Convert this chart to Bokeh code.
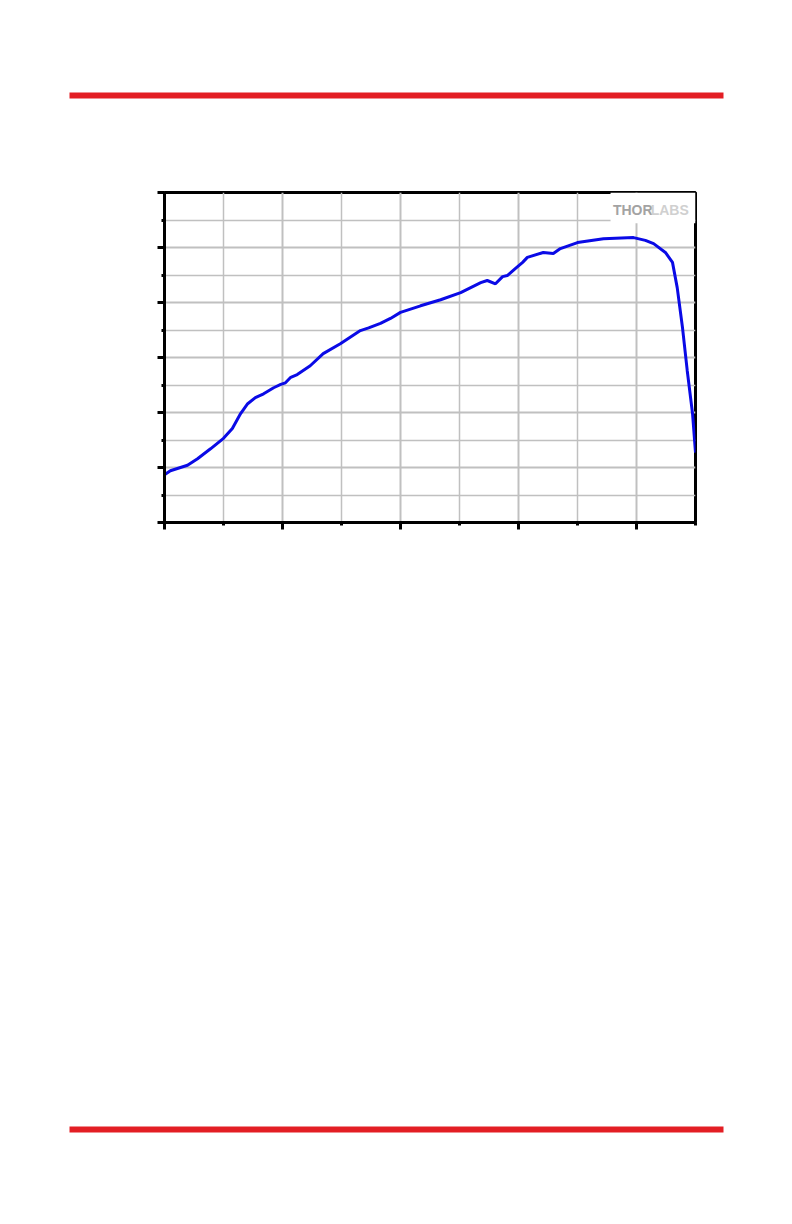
from bokeh.plotting import figure
from bokeh.models import Range1d, FixedTicker
from bokeh.embed import file_html
from bokeh.resources import INLINE
from bokeh.core.properties import value

# ---- data (axis units are unlabeled in the reference) ----
x_vals = [0, 10, 39, 56, 78, 100, 115, 129, 141, 154, 168, 185, 197, 205, 214, 225,
          247, 269, 298, 332, 346, 366, 383, 400, 434, 468, 502, 536, 547, 561, 573,
          581, 595, 607, 615, 642, 659, 671, 700, 744, 795, 815, 829, 849, 861, 869,
          878, 886, 895, 900]
y_vals = [8.7, 9.4, 10.4, 11.6, 13.4, 15.3, 17.1, 19.8, 21.6, 22.7, 23.4, 24.5, 25.1,
          25.4, 26.4, 26.9, 28.5, 30.7, 32.5, 34.9, 35.4, 36.2, 37.1, 38.2, 39.4, 40.5,
          41.8, 43.6, 44.0, 43.4, 44.7, 44.9, 46.2, 47.3, 48.2, 49.1, 48.9, 49.8, 50.9,
          51.6, 51.8, 51.3, 50.7, 49.1, 47.3, 42.7, 35.4, 27.6, 19.8, 12.7]
x_major_ticks = [0, 200, 400, 600, 800]
x_minor_ticks = [100, 300, 500, 700, 900]
y_major_ticks = [0, 10, 20, 30, 40, 50, 60]
y_minor_ticks = [5, 15, 25, 35, 45, 55]
logo_words = ["THOR", "LABS"]

RED = "#e31e24"
GRID = "#c0c0c0"


def bar_fig(height, bar_top, bar_bottom):
    f = figure(width=776, height=height, x_range=Range1d(0, 776),
               y_range=Range1d(height, 0), output_backend="svg",
               toolbar_location=None, min_border=0)
    f.axis.visible = False
    f.grid.visible = False
    f.outline_line_color = None
    f.quad(left=[69], right=[723], top=[bar_top], bottom=[bar_bottom],
           fill_color=RED, line_color=None)
    return f


top = bar_fig(108, 92, 98)

p = figure(width=776, height=452, x_range=Range1d(0, 900), y_range=Range1d(0, 60),
           output_backend="svg", toolbar_location=None,
           min_border_left=164, min_border_right=81, min_border_top=84,
           min_border_bottom=38)
p.outline_line_color = "black"
p.outline_line_width = 3

p.xaxis.ticker = FixedTicker(ticks=x_major_ticks, minor_ticks=x_minor_ticks)
p.yaxis.ticker = FixedTicker(ticks=y_major_ticks, minor_ticks=y_minor_ticks)
for ax in (p.xaxis, p.yaxis):
    ax.axis_line_color = "black"
    ax.axis_line_width = 3
    ax.major_tick_line_color = "black"
    ax.major_tick_line_width = 3
    ax.major_tick_out = 7
    ax.major_tick_in = 0
    ax.minor_tick_line_color = "black"
    ax.minor_tick_line_width = 3
    ax.minor_tick_out = 3
    ax.minor_tick_in = 0
    ax.major_label_text_color = None

for g in (p.xgrid, p.ygrid):
    g.grid_line_color = GRID
    g.grid_line_width = 2
    g.minor_grid_line_color = GRID
    g.minor_grid_line_width = 1.5

# logo with white backing box
p.quad(left=[756], right=[900], bottom=[54.4], top=[60], fill_color="white",
       line_color=None)
p.text(x=[760], y=[56.9], text=[logo_words[0]], text_font=value("Liberation Sans"),
       text_font_style="bold", text_font_size="14px", text_color="#a3a3a3",
       text_baseline="alphabetic", text_align="left")
p.text(x=[824], y=[56.9], text=[logo_words[1]], text_font=value("Liberation Sans"),
       text_font_style="bold", text_font_size="14px", text_color="#d0d0d0",
       text_baseline="alphabetic", text_align="left")

p.line(x_vals, y_vals, line_color="#0a0ae6", line_width=3)

bottom = bar_fig(588, 566, 572)

open("out.html", "w").write(file_html([top, p, bottom], INLINE))
